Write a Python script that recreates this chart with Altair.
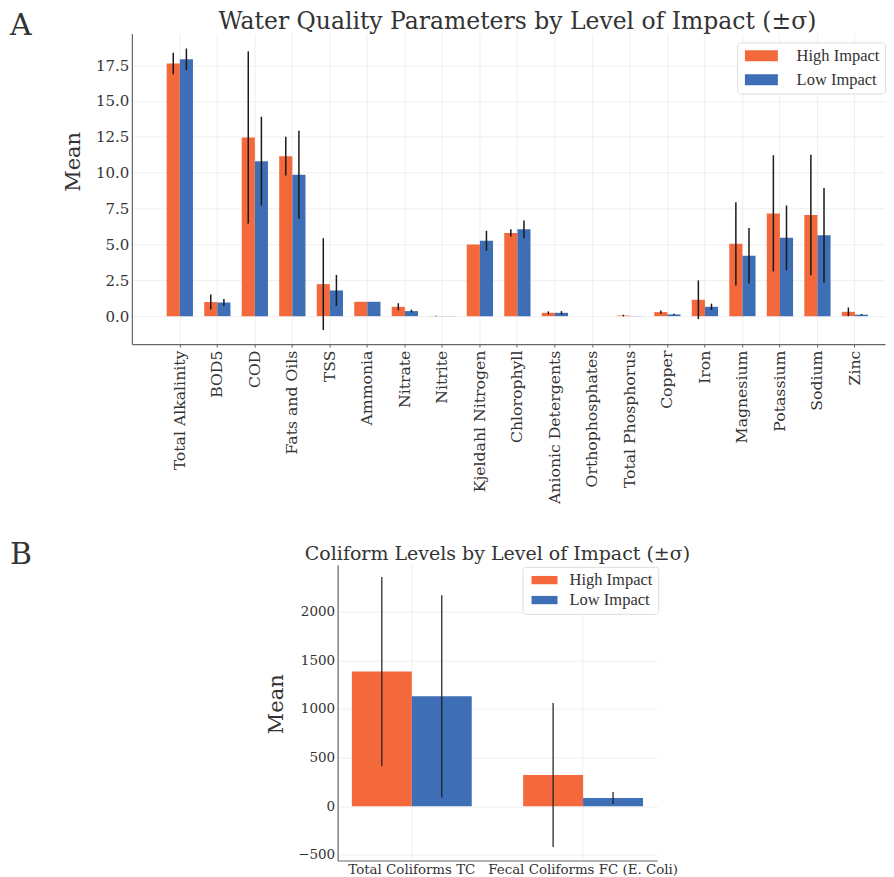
import altair as alt
import pandas as pd

# ---------------- data ----------------
groups = ["High Impact", "Low Impact"]
colors = ["#F4693B", "#3E6EB6"]

categories = ["Total Alkalinity", "BOD5", "COD", "Fats and Oils", "TSS", "Ammonia",
              "Nitrate", "Nitrite", "Kjeldahl Nitrogen", "Chlorophyll",
              "Anionic Detergents", "Orthophosphates", "Total Phosphorus", "Copper",
              "Iron", "Magnesium", "Potassium", "Sodium", "Zinc"]
high_mean = [17.6, 0.98, 12.45, 11.15, 2.23, 1.0, 0.65, 0.01, 5.0, 5.8,
             0.23, 0.0, 0.04, 0.28, 1.14, 5.04, 7.16, 7.05, 0.3]
high_sd = [0.75, 0.52, 6.0, 1.35, 3.2, 0.0, 0.25, 0.01, 0.0, 0.25,
           0.1, 0.0, 0.06, 0.12, 1.35, 2.9, 4.05, 4.2, 0.3]
low_mean = [17.9, 0.95, 10.8, 9.85, 1.79, 1.0, 0.35, 0.01, 5.25, 6.05,
            0.23, 0.0, 0.01, 0.12, 0.65, 4.21, 5.46, 5.63, 0.1]
low_sd = [0.75, 0.25, 3.1, 3.07, 1.08, 0.0, 0.1, 0.0, 0.7, 0.62,
          0.12, 0.0, 0.0, 0.05, 0.22, 1.93, 2.25, 3.3, 0.05]

coli_categories = ["Total Coliforms TC", "Fecal Coliforms FC (E. Coli)"]
coli_high_mean = [1386, 322]
coli_high_sd = [972, 740]
coli_low_mean = [1130, 85]
coli_low_sd = [1040, 62]

top_ticks = [0.0, 2.5, 5.0, 7.5, 10.0, 12.5, 15.0, 17.5]
bottom_ticks = [-500, 0, 500, 1000, 1500, 2000]

top_title = "Water Quality Parameters by Level of Impact (±σ)"
bottom_title = "Coliform Levels by Level of Impact (±σ)"


def long_table(cats, hm, hs, lm, ls):
    rows = []
    for i, c in enumerate(cats):
        for g, m, s in ((groups[0], hm[i], hs[i]), (groups[1], lm[i], ls[i])):
            rows.append({"param": c, "group": g, "mean": m, "sd": s,
                         "lo": m - s, "hi": m + s})
    return pd.DataFrame(rows)


df_top = long_table(categories, high_mean, high_sd, low_mean, low_sd)
df_bot = long_table(coli_categories, coli_high_mean, coli_high_sd, coli_low_mean, coli_low_sd)

SERIF = "DejaVu Serif"
TXT = "#333333"


def text_layer(txt, size, x, y, align="left"):
    return alt.Chart(pd.DataFrame({"t": [txt]})).mark_text(
        font=SERIF, fontSize=size, align=align, baseline="alphabetic",
        color=TXT).encode(text="t:N", x=alt.value(x), y=alt.value(y))


# ---------------- top chart ----------------
x_top = alt.X("param:N", sort=categories,
              scale=alt.Scale(paddingInner=0.3, paddingOuter=0.69, align=0.673),
              axis=alt.Axis(title=None, labelAngle=-90, labelFontSize=15.7,
                            labelPadding=3, tickSize=3, labelFont=SERIF,
                            labelColor=TXT, labelLimit=400))
xo = alt.XOffset("group:N", sort=groups,
                 scale=alt.Scale(paddingInner=0, paddingOuter=0))
y_scale_top = alt.Scale(domain=[-1.95, 19.7], nice=False, zero=False)

bars_top = alt.Chart(df_top).mark_bar().encode(
    x=x_top, xOffset=xo,
    y=alt.Y("mean:Q", scale=y_scale_top,
            axis=alt.Axis(title="Mean", values=top_ticks, format=".1f",
                          labelFontSize=15, labelFont=SERIF, labelColor=TXT,
                          ticks=False, labelPadding=3,
                          titleFont=SERIF, titleFontSize=21, titleFontWeight="normal",
                          titleColor=TXT, titlePadding=12, titleY=128)),
    color=alt.Color("group:N", sort=groups,
                    scale=alt.Scale(domain=groups, range=colors),
                    legend=alt.Legend(title=None, orient="none", legendX=606, legendY=9,
                                      direction="vertical",
                                      symbolType="M-1,-1L5,-1L5,1L-1,1Z",
                                      symbolSize=121, symbolStrokeWidth=0,
                                      symbolOpacity=1,
                                      labelFont="Liberation Serif", labelFontSize=16.5,
                                      labelColor=TXT, labelOffset=38, rowPadding=7,
                                      padding=5, fillColor="white",
                                      strokeColor="#dddddd", cornerRadius=3)),
)

err_top = alt.Chart(df_top).transform_filter("datum.sd > 0").mark_rule(
    color="#1a1a1a", strokeWidth=1.5).encode(
    x=alt.X("param:N", sort=categories), xOffset=alt.XOffset("group:N", sort=groups),
    y=alt.Y("lo:Q", scale=y_scale_top), y2="hi:Q")

top = alt.layer(
    bars_top, err_top,
    text_layer("A", 30, -122, 2),
    text_layer(top_title, 23.5, 386, -4, align="center"),
).properties(width=754, height=311)

# ---------------- bottom chart ----------------
x_bot = alt.X("param:N", sort=coli_categories,
              scale=alt.Scale(paddingInner=0.3, paddingOuter=0.083),
              axis=alt.Axis(title=None, labelAngle=0, labelFontSize=13.4,
                            labelFont=SERIF, labelColor=TXT, ticks=False,
                            labelPadding=2, labelLimit=400))
y_scale_bot = alt.Scale(domain=[-558, 2482], nice=False, zero=False)

bars_bot = alt.Chart(df_bot).mark_bar().encode(
    x=x_bot, xOffset=xo,
    y=alt.Y("mean:Q", scale=y_scale_bot,
            axis=alt.Axis(title="Mean", values=bottom_ticks, format="d",
                          labelFontSize=13.5, labelFont=SERIF, labelColor=TXT,
                          ticks=False, labelPadding=3,
                          titleFont=SERIF, titleFontSize=21, titleFontWeight="normal",
                          titleColor=TXT, titlePadding=11, titleY=139)),
    color=alt.Color("group:N", sort=groups,
                    scale=alt.Scale(domain=groups, range=colors),
                    legend=alt.Legend(title=None, orient="none", legendX=391, legendY=2,
                                      direction="vertical",
                                      symbolType="M-1,-1L5.27,-1L5.27,1L-1,1Z",
                                      symbolSize=69, symbolStrokeWidth=0,
                                      symbolOpacity=1,
                                      labelFont="Liberation Serif", labelFontSize=16.5,
                                      labelColor=TXT, labelOffset=25.7, rowPadding=3,
                                      padding=5, fillColor="white",
                                      strokeColor="#dddddd", cornerRadius=3)),
)

err_bot = alt.Chart(df_bot).transform_filter("datum.sd > 0").mark_rule(
    color="#1a1a1a", strokeWidth=1.2).encode(
    x=alt.X("param:N", sort=coli_categories), xOffset=alt.XOffset("group:N", sort=groups),
    y=alt.Y("lo:Q", scale=y_scale_bot), y2="hi:Q")

bottom = alt.layer(
    bars_bot, err_bot,
    text_layer(bottom_title, 19, 160, -5, align="center"),
).properties(width=320, height=296)

spacer_b = text_layer("B", 30, -122, -1).properties(width=1, height=296)

bottom_row = alt.hconcat(spacer_b, bottom, spacing=132)

chart = alt.vconcat(top, bottom_row, spacing=36).resolve_scale(
    color="independent", xOffset="independent").resolve_legend(
    color="independent").properties(
    padding={"left": 2, "top": 2, "right": 0, "bottom": 0}
).configure_view(strokeWidth=0).configure_axis(
    domainColor="#666666", domainWidth=1.2, tickColor="#666666",
    gridColor="#ebebeb", gridWidth=0.8, grid=True
).configure_axisX(grid=True)

chart.save("out.html", embed_options={"renderer": "svg", "actions": False})
